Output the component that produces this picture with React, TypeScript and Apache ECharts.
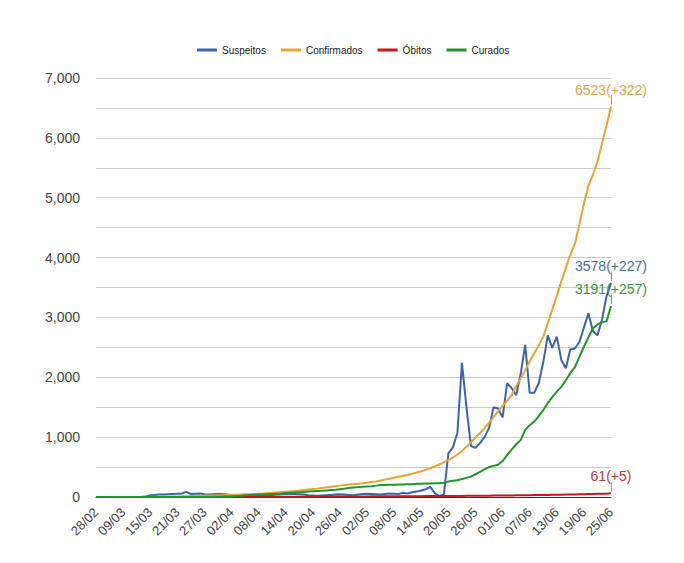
import React, { useEffect, useRef } from 'react';
import * as echarts from 'echarts';

const FONT = 'Arial, "Liberation Sans", sans-serif';

// Category dates: 28/02, then 04/03 .. 25/06
const dateRanges: [number, number, number][] = [
  [2, 28, 28],
  [3, 4, 31],
  [4, 1, 30],
  [5, 1, 31],
  [6, 1, 25],
];
const pad = (n: number) => String(n).padStart(2, '0');
const categories: string[] = [];
dateRanges.forEach(([m, a, b]) => {
  for (let d = a; d <= b; d++) categories.push(`${pad(d)}/${pad(m)}`);
});

const seriesNames = ['Suspeitos', 'Confirmados', 'Óbitos', 'Curados'];

const suspeitos = [
  0, 0, 0, 0, 0, 0, 0, 0, 0, 0,
  0, 10, 30, 35, 40, 40, 45, 50, 55, 60,
  85, 50, 55, 60, 45, 40, 45, 50, 45, 40,
  35, 30, 28, 32, 35, 30, 28, 25, 30, 35,
  40, 45, 50, 55, 50, 45, 40, 30, 25, 20,
  25, 30, 35, 40, 45, 40, 35, 30, 40, 50,
  55, 50, 45, 40, 50, 60, 55, 50, 70, 60,
  80, 90, 110, 130, 170, 60, 20, 40, 730, 830,
  1070, 2240, 1500, 850, 820, 900, 1000, 1150, 1500, 1480,
  1330, 1900, 1820, 1700, 2050, 2540, 1740, 1740, 1900, 2250,
  2700, 2490, 2680, 2290, 2150, 2470, 2480, 2590, 2830, 3070,
  2770, 2700, 2960, 3351, 3578,
];

const confirmados = [
  0, 0, 0, 0, 0, 0, 1, 1, 1, 2,
  2, 3, 4, 5, 6, 7, 8, 9, 10, 12,
  14, 16, 18, 20, 22, 24, 26, 28, 30, 33,
  36, 39, 42, 45, 48, 52, 56, 60, 65, 70,
  76, 82, 88, 94, 100, 108, 116, 124, 132, 140,
  150, 160, 170, 180, 190, 200, 208, 215, 222, 230,
  240, 250, 260, 275, 290, 305, 320, 338, 355, 372,
  390, 410, 430, 455, 480, 510, 545, 580, 620, 660,
  710, 770, 840, 910, 990, 1070, 1150, 1240, 1340, 1430,
  1520, 1610, 1700, 1850, 1980, 2120, 2260, 2400, 2530, 2680,
  2900, 3130, 3360, 3600, 3830, 4050, 4230, 4550, 4900, 5200,
  5380, 5600, 5900, 6201, 6523,
];

const obitos = [
  0, 0, 0, 0, 0, 0, 0, 0, 0, 0,
  0, 0, 0, 0, 0, 0, 0, 0, 0, 0,
  0, 0, 0, 0, 0, 0, 0, 0, 0, 0,
  1, 1, 1, 2, 2, 2, 3, 3, 3, 3,
  4, 4, 4, 5, 5, 5, 6, 6, 6, 7,
  7, 7, 8, 8, 8, 9, 9, 9, 10, 10,
  10, 11, 11, 11, 12, 12, 12, 13, 13, 13,
  14, 14, 14, 15, 15, 15, 16, 16, 17, 17,
  18, 18, 19, 19, 20, 20, 21, 22, 23, 24,
  25, 26, 27, 28, 29, 30, 31, 32, 33, 34,
  35, 36, 37, 38, 40, 41, 43, 45, 47, 49,
  51, 53, 54, 56, 61,
];

const curados = [
  0, 0, 0, 0, 0, 0, 0, 0, 0, 0,
  0, 0, 0, 0, 0, 0, 0, 0, 0, 0,
  0, 0, 0, 0, 0, 2, 4, 6, 8, 10,
  14, 18, 22, 28, 32, 36, 40, 44, 48, 52,
  56, 60, 65, 70, 75, 80, 85, 90, 95, 100,
  105, 110, 115, 120, 130, 140, 150, 160, 165, 170,
  175, 180, 190, 200, 200, 205, 205, 210, 210, 215,
  215, 220, 220, 225, 225, 230, 230, 240, 260, 270,
  280, 300, 320, 340, 380, 420, 460, 500, 520, 540,
  600, 700, 790, 880, 950, 1120, 1200, 1260, 1350, 1450,
  1570, 1670, 1760, 1840, 1950, 2070, 2170, 2340, 2510, 2670,
  2820, 2880, 2920, 2934, 3191,
];

const lineColors = ['#3b64b4', '#e8a530', '#c8161d', '#22962a'];
const labelColors = ['#4a6fa8', '#dba64a', '#c0393d', '#3a973a'];

// stem of the end annotation, in value units (styling only)
const STEM_FROM = 30;
const STEM_TO = 190;

function makeSeries(name: string, data: number[], color: string, labelColor: string) {
  const last = data.length - 1;
  const v = data[last];
  return {
    name,
    type: 'line',
    data: data.map((val, i) =>
      i === last
        ? { value: val, label: { show: true, formatter: `${val}(+${val - data[i - 1]})` } }
        : val
    ),
    symbol: 'circle',
    symbolSize: 0,
    showSymbol: true,
    showAllSymbol: true,
    lineStyle: { color, width: 2 },
    itemStyle: { color },
    label: {
      show: false,
      position: 'top',
      distance: 10,
      color: labelColor,
      fontSize: 14,
      fontFamily: FONT,
    },
    emphasis: { disabled: true },
    markLine: {
      silent: true,
      symbol: 'none',
      animation: false,
      label: { show: false },
      lineStyle: { color: '#9a9a9a', width: 1, type: 'solid' },
      emphasis: { disabled: true },
      data: [
        [
          { coord: [last, v + STEM_FROM] },
          { coord: [last, v + STEM_TO] },
        ],
      ],
    },
  };
}

export default function App() {
  const ref = useRef<HTMLDivElement>(null);
  useEffect(() => {
    if (!ref.current) return;
    const chart = echarts.init(ref.current, null, { renderer: 'svg' });
    const all = [suspeitos, confirmados, obitos, curados];
    chart.setOption({
      animation: false,
      backgroundColor: '#ffffff',
      textStyle: { fontFamily: FONT },
      legend: {
        data: seriesNames,
        left: 192,
        top: 40,
        icon: 'rect',
        itemWidth: 20,
        itemHeight: 3,
        itemGap: 15,
        textStyle: { fontSize: 10, color: '#222', fontFamily: FONT },
      },
      grid: { left: 96, right: 73, top: 78, bottom: 66, containLabel: false },
      xAxis: {
        type: 'category',
        data: categories,
        boundaryGap: false,
        axisLine: { show: true, lineStyle: { color: '#333', width: 1 } },
        axisTick: { show: false },
        axisLabel: {
          interval: 5,
          rotate: 45,
          fontSize: 13,
          color: '#444',
          margin: 13,
          fontFamily: FONT,
        },
        splitLine: { show: false },
      },
      yAxis: {
        type: 'value',
        min: 0,
        max: 7000,
        interval: 500,
        axisLine: { show: false },
        axisTick: { show: false },
        axisLabel: {
          fontSize: 14,
          color: '#444',
          margin: 16,
          fontFamily: FONT,
          formatter: (val: number) => (val % 1000 === 0 ? val.toLocaleString('en-US') : ''),
        },
        splitLine: { lineStyle: { color: '#cccccc', width: 1 } },
      },
      series: seriesNames.map((n, k) => makeSeries(n, all[k], lineColors[k], labelColors[k])),
    });
    return () => chart.dispose();
  }, []);
  return (
    <div
      ref={ref}
      style={{ position: 'absolute', left: 0, top: 0, width: 684, height: 563 }}
    />
  );
}
